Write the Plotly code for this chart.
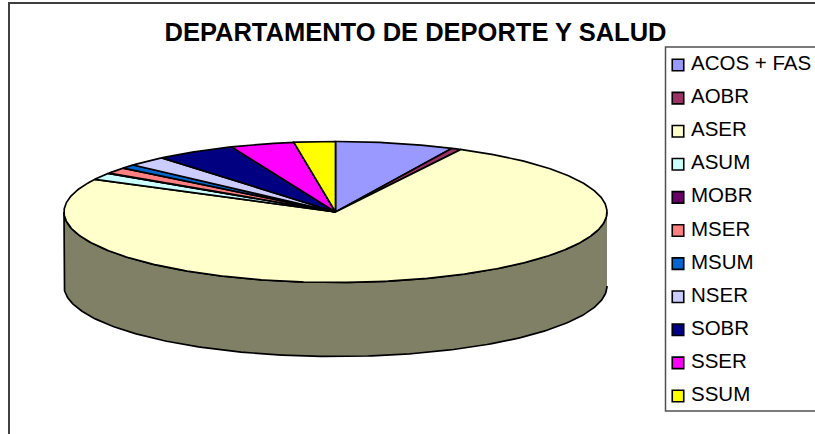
import numpy as np
import plotly.graph_objects as go

categories = ["ACOS + FAS", "AOBR", "ASER", "ASUM", "MOBR", "MSER", "MSUM", "NSER", "SOBR", "SSER", "SSUM"]
values = [7.06, 0.58, 75.03, 1.53, 0.1, 1.4, 0.92, 2.33, 4.8, 3.8, 2.45]
colors = ["#9999FF", "#993366", "#FFFFCC", "#CCFFFF", "#660066", "#FF8080",
          "#0066CC", "#CCCCFF", "#000080", "#FF00FF", "#FFFF00"]
wall_color = "#808066"
title = "DEPARTAMENTO DE DEPORTE Y SALUD"

W, H = 815, 434
CX, CY, RX, RY, DEPTH = 335.5, 212, 271.5, 70.5, 74
LEG_Y0, LEG_STEP = 65, 33.1
FONT = "Liberation Sans, Arial, sans-serif"
LW = 1.7

fig = go.Figure()

# pie drawn in unit-disc coordinates on the main axes
def arc(t0, t1):
    n = max(2, int((t1 - t0) / 0.01))
    t = np.linspace(t0, t1, n)
    return np.sin(t), np.cos(t)

# wall (visible front half)
depth = DEPTH / RY
tw = np.linspace(np.pi / 2, 3 * np.pi / 2, 200)
wx = np.concatenate([np.sin(tw), np.sin(tw[::-1])])
wy = np.concatenate([np.cos(tw), np.cos(tw[::-1]) - depth])
fig.add_trace(go.Scatter(x=wx, y=wy, mode="lines", fill="toself", fillcolor=wall_color,
                         line=dict(color="black", width=LW), showlegend=False, hoverinfo="skip"))

total = sum(values)
start = 0.0
for name, v, c in zip(categories, values, colors):
    end = start + 2 * np.pi * v / total
    ax, ay = arc(start, end)
    fig.add_trace(go.Scatter(x=np.r_[0, ax, 0], y=np.r_[0, ay, 0], mode="lines", fill="toself",
                             fillcolor=c, line=dict(color="black", width=LW),
                             name=name, showlegend=False, hoverinfo="name"))
    start = end

# legend entries on an overlaid category axis
fig.add_trace(go.Scatter(x=[0] * len(categories), y=categories, xaxis="x2", yaxis="y2",
                         mode="markers",
                         marker=dict(symbol="square", size=11.5, color=colors, line=dict(color="black", width=1.6)),
                         showlegend=False, hoverinfo="skip", cliponaxis=False))

annotations = [dict(x=11, y=c, xref="x2", yref="y2", text=c, showarrow=False, xanchor="left",
                    yanchor="middle", yshift=2.5, font=dict(family=FONT, size=20.5, color="black"))
               for c in categories]

fig.update_layout(
    width=W, height=H, margin=dict(l=0, r=0, t=0, b=0),
    paper_bgcolor="white", plot_bgcolor="white", showlegend=False,
    xaxis=dict(range=[-CX / RX, (W - CX) / RX], visible=False, domain=[0, 1], fixedrange=True),
    yaxis=dict(range=[(CY - H) / RY, CY / RY], visible=False, domain=[0, 1], fixedrange=True),
    xaxis2=dict(overlaying="x", range=[-678, W - 678], visible=False, fixedrange=True),
    yaxis2=dict(overlaying="y", type="category", categoryorder="array", categoryarray=categories,
                range=[(H - LEG_Y0) / LEG_STEP, -LEG_Y0 / LEG_STEP], visible=False, fixedrange=True),
    title=dict(text="<b>%s</b>" % title, x=415.5 / W, xanchor="center", y=1 - 32 / H, yanchor="middle",
               font=dict(family=FONT, size=25.5, color="black")),
    annotations=annotations,
    shapes=[
        dict(type="rect", xref="paper", yref="paper", x0=9 / W, x1=1.01, y0=-0.01, y1=1 - 3 / H,
             line=dict(color="#404040", width=2), fillcolor="rgba(0,0,0,0)", layer="above"),
        dict(type="rect", xref="paper", yref="paper", x0=665.5 / W, x1=1.01, y0=1 - 411 / H, y1=1 - 47 / H,
             line=dict(color="#505050", width=1.5), fillcolor="rgba(255,255,255,0)", layer="below"),
    ],
)
fig.write_html("out.html", config={"displayModeBar": False}, post_script="document.body.style.margin='0';")
